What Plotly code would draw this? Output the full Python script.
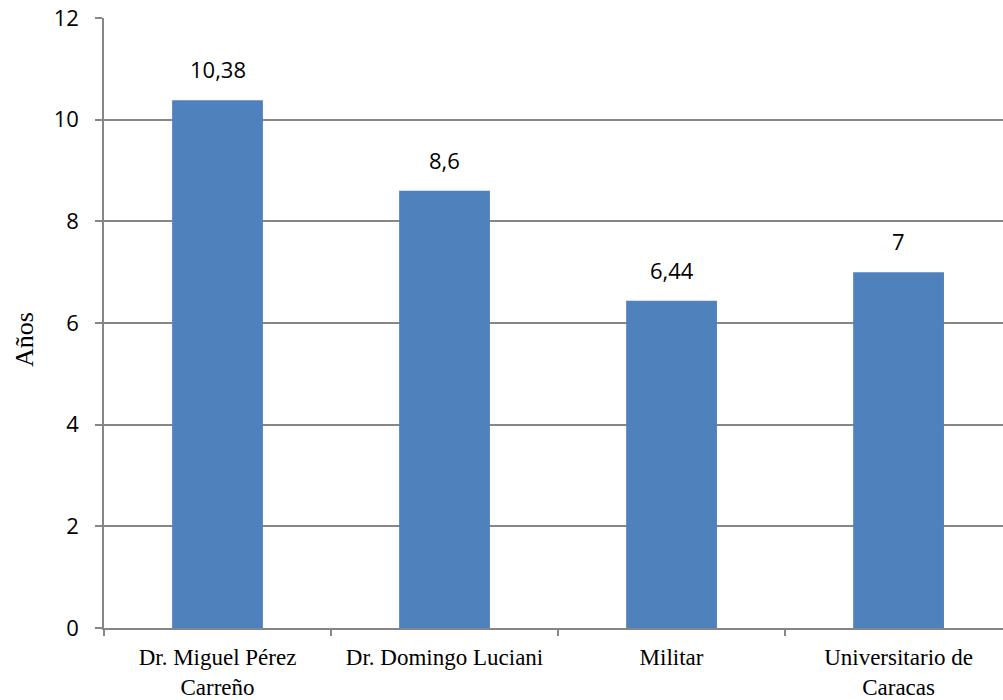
import plotly.graph_objects as go

categories = ["Dr. Miguel Pérez<br>Carreño", "Dr. Domingo Luciani", "Militar", "Universitario de<br>Caracas"]
values = [10.38, 8.6, 6.44, 7]
labels = ["10,38", "8,6", "6,44", "7"]
y_ticks = [0, 2, 4, 6, 8, 10, 12]
y_title = "Años"

SANS = "Open Sans, Liberation Sans, sans-serif"
SERIF = "Liberation Serif, Times New Roman, serif"

fig = go.Figure()
fig.add_trace(go.Bar(
    x=categories, y=values, width=0.4,
    marker=dict(color="#4F81BD", line=dict(width=0)),
))
for c, v, t in zip(categories, values, labels):
    fig.add_annotation(x=c, y=v, text=t, showarrow=False, yanchor="bottom", yshift=14,
                       font=dict(family=SANS, size=22, color="black"))
fig.add_annotation(x=0, y=0.5, xref="paper", yref="paper", text=y_title, textangle=-90,
                   showarrow=False, xanchor="center", yanchor="middle", xshift=-80, yshift=-17,
                   font=dict(family=SERIF, size=26, color="black"))
fig.update_layout(
    width=1003, height=700,
    margin=dict(l=104, r=0, t=18, b=70),
    plot_bgcolor="white", paper_bgcolor="white",
    showlegend=False,
)
fig.update_xaxes(
    type="category", range=[-0.5, 3.46],
    showline=True, linecolor="#868686", linewidth=1.5,
    ticks="outside", tickson="boundaries", ticklen=6, tickcolor="#868686", tickwidth=1.5,
    tickfont=dict(family=SERIF, size=23, color="black"),
    ticklabelstandoff=8,
    showgrid=False,
)
fig.update_yaxes(
    range=[0, 12], tickvals=y_ticks,
    showline=True, linecolor="#868686", linewidth=1.5,
    ticks="outside", ticklen=7, tickcolor="#868686", tickwidth=1.5,
    ticklabelstandoff=12,
    showgrid=True, gridcolor="#868686", gridwidth=1.5,
    tickfont=dict(family=SANS, size=22, color="black"),
    zeroline=False,
)
fig.write_html("out.html")
